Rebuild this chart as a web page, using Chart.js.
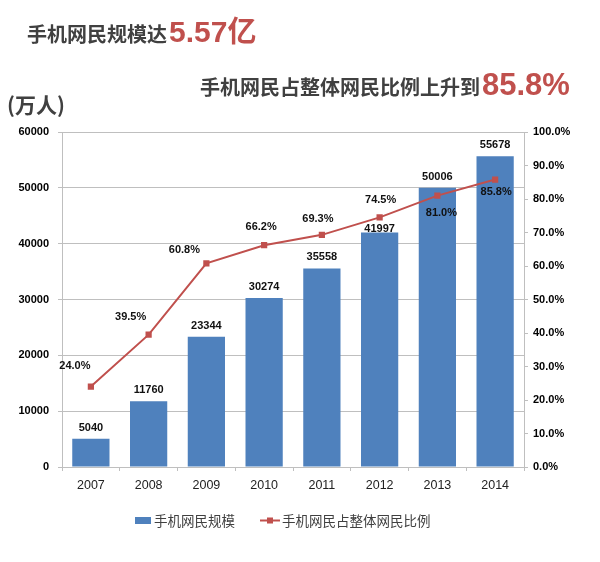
<!DOCTYPE html>
<html>
<head>
<meta charset="utf-8">
<script src="https://cdn.jsdelivr.net/npm/chart.js@4/dist/chart.umd.min.js"></script>
<style>
html,body{margin:0;padding:0;background:#fff;}
#wrap{position:relative;width:600px;height:562px;}
</style>
</head>
<body>
<div id="wrap"><canvas id="c" width="600" height="562"></canvas></div>
<script>
// ---- data ----
const years = ['2007','2008','2009','2010','2011','2012','2013','2014'];
const mobileUsers = [5040, 11760, 23344, 30274, 35558, 41997, 50006, 55678];
const mobileShare = [24.0, 39.5, 60.8, 66.2, 69.3, 74.5, 81.0, 85.8];
const seriesNames = ['手机网民规模', '手机网民占整体网民比例'];
const title1 = ['手机网民规模达', '5.57', '亿'];
const title2 = ['手机网民占整体网民比例上升到', '85.8%'];
const unitLabel = '(万人)';

// ---- label placement (style) ----
const lineLabelOffsets = [[-16,-21],[-18,-18],[-22,-13],[-3,-18],[-4,-16],[1,-17],[4,17],[1,12]];
const barLabelGap = [11,11,11,11,11,4,11,11];

const BLUE = '#4f81bd', RED = '#c0504d', GRID = '#bfbfbf', DARK = '#404040';
const CJK = '"Noto Sans CJK SC", sans-serif';
const LAT = '"Liberation Sans", Arial, sans-serif';

const decor = {
  id: 'decor',
  afterDatasetsDraw(chart) {
    const ctx = chart.ctx;
    ctx.save();
    ctx.font = '700 11px ' + LAT;
    ctx.fillStyle = '#111';
    ctx.textAlign = 'center';
    ctx.textBaseline = 'middle';
    const barMeta = chart.getDatasetMeta(0);
    barMeta.data.forEach((el, i) => {
      ctx.fillText(String(mobileUsers[i]), el.x, el.y - barLabelGap[i]);
    });
    const lineMeta = chart.getDatasetMeta(1);
    lineMeta.data.forEach((el, i) => {
      const o = lineLabelOffsets[i];
      ctx.fillText(mobileShare[i].toFixed(1) + '%', el.x + o[0], el.y + o[1]);
    });
    ctx.restore();
  },
  afterDraw(chart) {
    const ctx = chart.ctx;
    ctx.save();
    ctx.textBaseline = 'alphabetic';
    ctx.textAlign = 'left';
    let x = 27;
    ctx.font = '700 20px ' + CJK; ctx.fillStyle = DARK;
    ctx.fillText(title1[0], x, 42); x += ctx.measureText(title1[0]).width + 2;
    ctx.font = '700 30px ' + LAT; ctx.fillStyle = RED;
    ctx.fillText(title1[1], x, 42); x += ctx.measureText(title1[1]).width;
    ctx.font = '700 29px ' + CJK;
    ctx.fillText(title1[2], x, 42);
    x = 200;
    ctx.font = '700 20px ' + CJK; ctx.fillStyle = DARK;
    ctx.fillText(title2[0], x, 95); x += ctx.measureText(title2[0]).width + 2;
    ctx.font = '700 31px ' + LAT; ctx.fillStyle = RED;
    ctx.fillText(title2[1], x, 95);
    ctx.font = '700 21px ' + CJK; ctx.fillStyle = DARK;
    ctx.fillText(unitLabel, 7, 113);
    ctx.textBaseline = 'middle';
    ctx.font = '13.5px ' + CJK;
    ctx.fillStyle = BLUE; ctx.fillRect(135, 517, 16, 7);
    ctx.fillStyle = DARK; ctx.fillText(seriesNames[0], 154, 521);
    ctx.strokeStyle = RED; ctx.lineWidth = 2;
    ctx.beginPath(); ctx.moveTo(260, 520.5); ctx.lineTo(280, 520.5); ctx.stroke();
    ctx.fillStyle = RED; ctx.fillRect(267, 517.5, 6, 6);
    ctx.fillStyle = DARK; ctx.fillText(seriesNames[1], 282, 521);
    ctx.restore();
  }
};

new Chart(document.getElementById('c'), {
  data: {
    labels: years,
    datasets: [
      {
        type: 'bar', label: seriesNames[0], data: mobileUsers, yAxisID: 'y',
        backgroundColor: BLUE, borderWidth: 0,
        barPercentage: 0.645, categoryPercentage: 1.0, order: 2
      },
      {
        type: 'line', label: seriesNames[1], data: mobileShare, yAxisID: 'y1',
        borderColor: RED, borderWidth: 2, backgroundColor: RED,
        pointStyle: 'rect', pointRadius: 4.4, pointBackgroundColor: RED,
        pointBorderWidth: 0, tension: 0, order: 1
      }
    ]
  },
  options: {
    responsive: false,
    animation: false,
    layout: { padding: { top: 132, left: 0, right: 0, bottom: 0 } },
    plugins: { legend: { display: false }, tooltip: { enabled: false } },
    scales: {
      x: {
        offset: true,
        grid: { offset: true, drawOnChartArea: false, drawTicks: true, tickLength: 4, color: GRID },
        border: { display: true, color: GRID, width: 1 },
        ticks: { color: '#222', font: { family: LAT, size: 12.5 }, padding: 7 },
        afterFit(s) { s.height = 95; }
      },
      y: {
        position: 'left', min: 0, max: 60000,
        ticks: { stepSize: 10000, color: '#000', font: { family: LAT, size: 11, weight: '700' }, padding: 9,
                 callback: v => String(v) },
        grid: { color: GRID, tickLength: 4 },
        border: { display: true, color: GRID },
        afterFit(s) { s.width = 62; }
      },
      y1: {
        position: 'right', min: 0, max: 100,
        ticks: { stepSize: 10, color: '#000', font: { family: LAT, size: 11, weight: '700' }, padding: 5,
                 callback: v => Number(v).toFixed(1) + '%' },
        grid: { drawOnChartArea: false, color: GRID, tickLength: 4 },
        border: { display: true, color: GRID },
        afterFit(s) { s.width = 76; }
      }
    }
  },
  plugins: [decor]
});
</script>
</body>
</html>
